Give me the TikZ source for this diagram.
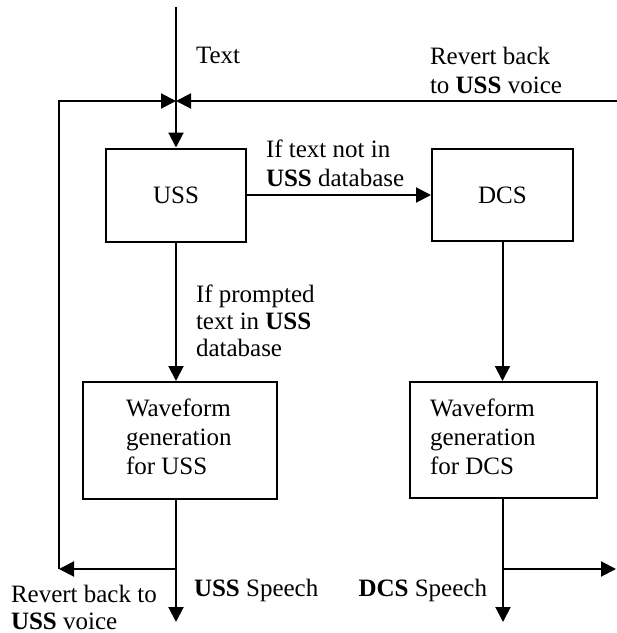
\documentclass[tikz,border=0pt]{standalone}
\usepackage{fontspec}
\setmainfont{Liberation Serif}
\usetikzlibrary{arrows.meta}
\begin{document}
\begin{tikzpicture}[x=1pt,y=-1pt,
  line width=2pt,
  every node/.style={font=\fontsize{25}{29}\selectfont},
  box/.style={draw,rectangle,inner sep=0pt},
  lbl/.style={inner sep=0pt,align=left,anchor=base west},
  lbltight/.style={lbl,font=\fontsize{25}{27}\selectfont},
  arr/.style={-{Triangle[length=15pt,width=15pt]}}]
\useasboundingbox (0,0) rectangle (617,633);
% boxes
\node[box,minimum width=140pt,minimum height=93pt] (uss) at (176,195) {USS};
\node[box,minimum width=141pt,minimum height=92pt] (dcs) at (502.5,195) {DCS};
\node[box,minimum width=194pt,minimum height=117pt] (wu) at (180,440.5) {};
\node[box,minimum width=187pt,minimum height=116pt] (wd) at (503.5,440) {};
% box texts (base anchor = last line)
\node[lbl] (wut) at (125,474) {Waveform\\generation\\for USS};
\node[lbl] (wdt) at (429,474) {Waveform\\generation\\for DCS};
% coordinates
\coordinate (top) at (176,7);
\coordinate (j) at (176,101);
\coordinate (tl) at (59,101);
\coordinate (tr) at (617,101);
\coordinate (bl) at (59,569);
\coordinate (ujn) at (176,569);
\coordinate (ubot) at (176,622);
\coordinate (djn) at (503,569);
\coordinate (dbot) at (503,622);
\coordinate (dr) at (616,569);
% connectors
\draw (top) -- (j);
\draw[arr] (j) -- (uss.north);
\draw[arr] (bl) -- (tl) -- (j);
\draw[arr] (tr) -- (j);
\draw[arr] (uss.east) -- (dcs.west);
\draw[arr] (uss.south) -- (uss.south |- wu.north);
\draw[arr] (dcs.south) -- (dcs.south |- wd.north);
\draw[arr] (ubot |- wu.south) -- (ubot);
\draw[arr] (ujn) -- (bl);
\draw[arr] (dbot |- wd.south) -- (dbot);
\draw[arr] (djn) -- (dr);
% labels
\node[lbl] (ltext) at (195,63) {Text};
\node[lbl] (lrev) at (429,93) {Revert back\\to \textbf{USS} voice};
\node[lbl] (lnot) at (265,186) {If text not in\\\textbf{USS} database};
\node[lbltight] (lprom) at (195,356) {If prompted\\text in \textbf{USS}\\database};
\node[lbltight] (lrev2) at (10,629) {Revert back to\\\textbf{USS} voice};
\node[lbl] (luss) at (193,596) {\textbf{USS} Speech};
\node[lbl,anchor=base east] (ldcs) at (488,596) {\textbf{DCS} Speech};
\end{tikzpicture}
\end{document}
